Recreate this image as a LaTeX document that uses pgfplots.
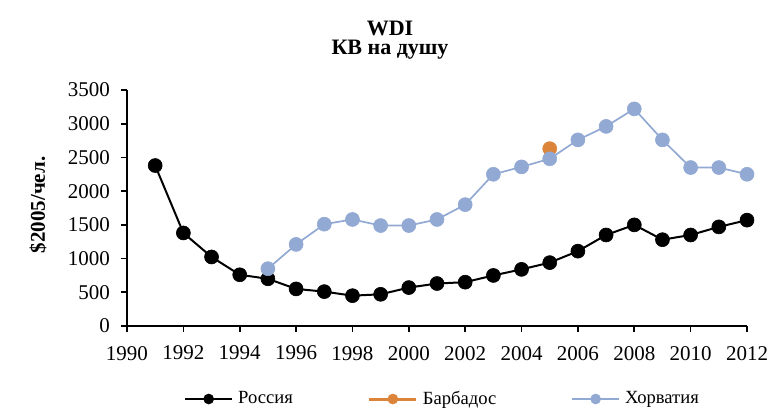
\documentclass[border=0pt]{standalone}
\usepackage{fontspec}
\setmainfont{Liberation Serif}
\usepackage{pgfplots}
\pgfplotsset{compat=1.18}

\definecolor{rusc}{HTML}{000000}
\definecolor{barc}{HTML}{DC843A}
\definecolor{croc}{HTML}{92A9D4}

\begin{document}
\begin{tikzpicture}
  \path[use as bounding box] (-63.5pt,-41pt) rectangle (321pt,163pt);
  \begin{axis}[
      scale only axis, width=310pt, height=118pt,
      xmin=1990, xmax=2012, ymin=0, ymax=3500,
      xtick={1990,1992,...,2012}, ytick={0,500,...,3500},
      axis x line=bottom, axis y line=left,
      axis line style={-, line width=1pt},
      tick align=outside, major tick length=3pt,
      tick style={black, line width=0.8pt},
      /pgf/number format/assume math mode=true,
      /pgf/number format/set thousands separator={},
      tick label style={font=\fontsize{10.5}{12}\selectfont},
      yticklabel style={xshift=-2pt},
      xticklabel style={yshift=-3.5pt},
      legend columns=3,
      legend cell align=left,
      legend style={draw=none, fill=none, at={(0.5,0)}, anchor=center,
                    yshift=-36.5pt, xshift=3pt,
                    font=\fontsize{9.3}{11}\selectfont,
                    nodes={inner sep=1.5pt},
                    /tikz/every odd column/.append style={column sep=1pt},
                    /tikz/every even column/.append style={column sep=36pt}},
      legend image code/.code={
        \draw[#1, mark=none] (0pt,0pt) -- (23.5pt,0pt);
        \draw[#1, mark size=2.5pt] plot coordinates {(11.75pt,0pt)};
      },
    ]
    \addplot[rusc, line width=1pt, mark=*, mark size=3.5pt,
             mark options={fill=rusc, draw=rusc, line width=0.3pt}]
      coordinates {(1991,2380) (1992,1380) (1993,1024) (1994,760) (1995,700)
                   (1996,550) (1997,510) (1998,450) (1999,470) (2000,570)
                   (2001,630) (2002,650) (2003,750) (2004,840) (2005,940)
                   (2006,1110) (2007,1350) (2008,1500) (2009,1280) (2010,1350)
                   (2011,1470) (2012,1570)};
    \addlegendentry{Россия}
    \addplot[barc, line width=1.5pt, mark=*, mark size=3.5pt,
             mark options={fill=barc, draw=barc, line width=0.3pt}]
      coordinates {(2005,2630)};
    \addlegendentry{Барбадос}
    \addplot[croc, line width=0.85pt, mark=*, mark size=3.5pt,
             mark options={fill=croc, draw=croc, line width=0.3pt}]
      coordinates {(1995,850) (1996,1210) (1997,1510) (1998,1580) (1999,1490)
                   (2000,1490) (2001,1580) (2002,1800) (2003,2250) (2004,2360)
                   (2005,2480) (2006,2760) (2007,2960) (2008,3220) (2009,2760)
                   (2010,2350) (2011,2350) (2012,2250)};
    \addlegendentry{Хорватия}
  \end{axis}
  \node[rotate=90, anchor=center, font=\bfseries\fontsize{10.5}{12}\selectfont]
    at (-44.5pt,60.5pt) {\$2005/чел.};
  \node[anchor=base, font=\bfseries\fontsize{11}{13}\selectfont] at (131.5pt,145.5pt) {WDI};
  \node[anchor=base, font=\bfseries\fontsize{11}{13}\selectfont] at (131.5pt,135.5pt) {КВ на душу};
\end{tikzpicture}
\end{document}
